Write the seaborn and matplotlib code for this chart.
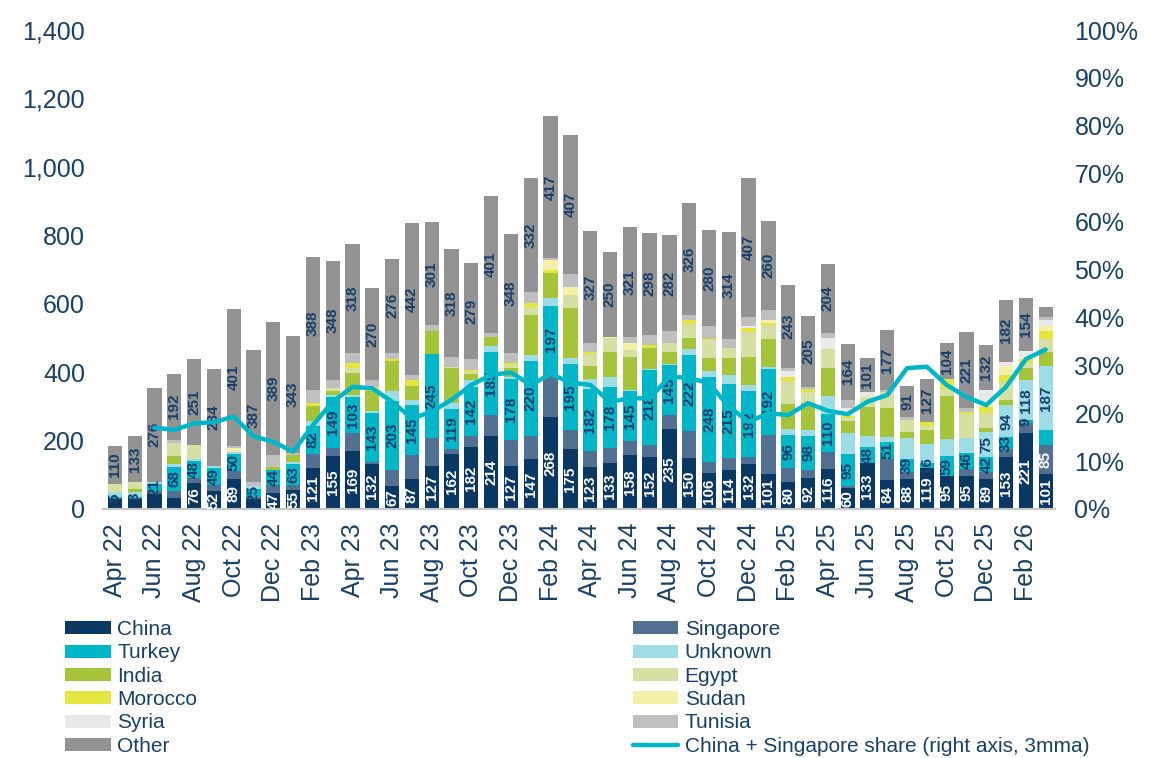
import numpy as np
import pandas as pd
import seaborn as sns
import matplotlib.pyplot as plt
from matplotlib.patches import Patch
from matplotlib.lines import Line2D
from matplotlib.ticker import FuncFormatter, MultipleLocator

months = ["Apr 22", "May 22", "Jun 22", "Jul 22", "Aug 22", "Sep 22", "Oct 22", "Nov 22", "Dec 22",
          "Jan 23", "Feb 23", "Mar 23", "Apr 23", "May 23", "Jun 23", "Jul 23", "Aug 23", "Sep 23",
          "Oct 23", "Nov 23", "Dec 23", "Jan 24", "Feb 24", "Mar 24", "Apr 24", "May 24", "Jun 24",
          "Jul 24", "Aug 24", "Sep 24", "Oct 24", "Nov 24", "Dec 24", "Jan 25", "Feb 25", "Mar 25",
          "Apr 25", "May 25", "Jun 25", "Jul 25", "Aug 25", "Sep 25", "Oct 25", "Nov 25", "Dec 25",
          "Jan 26", "Feb 26", "Mar 26"]

china = [28, 28, 45, 33, 76, 52, 89, 29, 47, 55,
         121, 155, 169, 132, 67, 87, 127, 162, 182, 214,
         127, 147, 268, 175, 123, 133, 158, 152, 235, 150,
         106, 114, 132, 101, 80, 92, 116, 60, 133, 84,
         88, 119, 95, 95, 89, 153, 221, 101]
singapore = [3, 5, 8, 21, 16, 19, 22, 5, 23, 14,
             41, 23, 54, 5, 47, 72, 81, 12, 32, 61,
             75, 67, 128, 55, 46, 46, 41, 35, 41, 78,
             32, 35, 20, 116, 41, 23, 52, 6, 0, 61,
             19, 0, 0, 23, 20, 23, 29, 85]
turkey = [5, 3, 21, 68, 48, 49, 50, 25, 44, 63,
          82, 149, 103, 143, 203, 145, 245, 119, 142, 185,
          178, 220, 197, 195, 182, 178, 145, 218, 145, 222,
          248, 215, 192, 192, 96, 98, 110, 95, 48, 51,
          39, 16, 59, 46, 42, 33, 9, 44]
unknown = [15, 14, 5, 9, 5, 5, 6, 8, 0, 5,
           12, 7, 8, 6, 28, 16, 0, 17, 22, 17,
           6, 17, 23, 17, 29, 29, 3, 3, 3, 17,
           17, 29, 17, 6, 17, 17, 52, 61, 32, 15,
           61, 56, 52, 44, 75, 94, 118, 187]
india = [0, 8, 0, 23, 0, 0, 0, 0, 8, 22,
         44, 12, 64, 60, 88, 39, 67, 102, 17, 26,
         26, 116, 73, 145, 38, 73, 96, 64, 35, 32,
         38, 49, 84, 81, 73, 81, 81, 35, 84, 84,
         17, 41, 125, 0, 12, 17, 35, 41]
egypt = [23, 22, 0, 40, 42, 0, 0, 0, 0, 0,
         0, 8, 15, 0, 0, 0, 0, 3, 6, 0,
         9, 23, 0, 38, 35, 40, 23, 0, 26, 41,
         52, 29, 73, 41, 67, 32, 58, 8, 29, 46,
         35, 12, 20, 70, 43, 52, 15, 38]
morocco = [0, 0, 0, 0, 0, 0, 0, 0, 0, 0,
           11, 0, 15, 12, 6, 17, 0, 0, 6, 0,
           6, 12, 9, 0, 6, 0, 0, 6, 0, 12,
           3, 0, 12, 6, 12, 9, 0, 8, 0, 0,
           0, 9, 29, 6, 18, 20, 12, 23]
sudan = [0, 0, 0, 0, 0, 0, 11, 0, 0, 0,
         0, 0, 0, 0, 0, 0, 0, 0, 0, 0,
         0, 0, 29, 23, 0, 3, 20, 0, 0, 0,
         0, 0, 0, 9, 0, 0, 0, 0, 0, 0,
         0, 0, 0, 0, 10, 26, 0, 17]
syria = [0, 0, 0, 0, 0, 0, 0, 0, 0, 0,
         0, 0, 0, 0, 0, 0, 0, 0, 0, 0,
         0, 0, 0, 0, 0, 0, 0, 0, 0, 0,
         0, 0, 5, 0, 17, 0, 32, 23, 15, 0,
         0, 0, 0, 0, 38, 12, 23, 17]
tunisia = [0, 0, 0, 9, 0, 0, 6, 12, 35, 5,
           38, 23, 29, 18, 17, 17, 17, 28, 32, 12,
           29, 32, 6, 38, 26, 0, 17, 32, 35, 15,
           38, 26, 26, 29, 9, 6, 12, 23, 0, 6,
           9, 0, 0, 12, 0, 0, 0, 9]
other = [110, 133, 276, 192, 251, 284, 401, 387, 389, 343,
         388, 348, 318, 270, 276, 442, 301, 318, 279, 401,
         348, 332, 417, 407, 327, 250, 321, 298, 282, 326,
         280, 314, 407, 260, 243, 205, 204, 164, 101, 177,
         91, 127, 104, 221, 132, 182, 154, 29]

# China + Singapore share, right axis, 3mma (%)
share = [np.nan, np.nan, 17.0, 16.5, 17.9, 18.1, 19.3, 15.2, 14.0, 12.0,
         17.5, 22.4, 25.5, 25.2, 22.4, 18.9, 20.3, 22.8, 25.9, 28.0,
         28.5, 25.9, 28.2, 26.4, 25.9, 22.4, 23.1, 23.1, 27.6, 27.4,
         26.2, 21.4, 18.2, 20.0, 19.6, 22.1, 20.5, 19.8, 22.4, 23.8,
         29.4, 29.7, 25.9, 23.4, 21.7, 25.5, 31.3, 33.3]

countries = ["China", "Singapore", "Turkey", "Unknown", "India", "Egypt",
             "Morocco", "Sudan", "Syria", "Tunisia", "Other"]
series = [china, singapore, turkey, unknown, india, egypt,
          morocco, sudan, syria, tunisia, other]
colors = {"China": "#0A3864", "Singapore": "#527192", "Turkey": "#00B7CA",
          "Unknown": "#9CDDE6", "India": "#A6C43A", "Egypt": "#D5E0A2",
          "Morocco": "#E5E540", "Sudan": "#F4F0A6", "Syria": "#E9E9E9",
          "Tunisia": "#BFBFBF", "Other": "#939393"}
navy = "#17406A"
line_col = "#00B7CA"

sns.set_theme(style="white")
plt.rcParams["font.family"] = ["Liberation Sans", "DejaVu Sans"]

n = len(months)
idx = np.arange(n)
long = pd.DataFrame({
    "idx": np.tile(idx, len(countries)),
    "country": np.repeat(countries, n),
    "value": np.concatenate([np.array(s, dtype=float) for s in series]),
})

fig = plt.figure(figsize=(11.7, 7.58), dpi=100)
ax = fig.add_axes([103 / 1170, 1 - 509 / 758, (1055 - 103) / 1170, (509 - 30) / 758])

sns.histplot(
    data=long, x="idx", weights="value", hue="country",
    hue_order=countries[::-1], multiple="stack", discrete=True, shrink=0.72,
    palette=colors, alpha=1, linewidth=0, legend=False, ax=ax,
)

# bar value labels
cum = np.zeros(n)
bottoms = {}
for name, s in zip(countries, series):
    bottoms[name] = cum.copy()
    cum = cum + np.array(s)

def put_labels(name, which, col):
    vals = np.array(series[countries.index(name)])
    for i in which:
        v = vals[i]
        ax.text(i, bottoms[name][i] + v / 2, str(int(v)), rotation=90,
                ha="center", va="center", fontsize=11, fontweight="bold",
                color=col)

put_labels("China", [i for i in range(n) if china[i] >= 46], "white")
put_labels("Turkey", range(n - 1), navy)
put_labels("Singapore", [n - 1], "white")
put_labels("Unknown", range(n - 4, n), navy)
put_labels("Other", range(n - 1), navy)

ax.set_xlim(-0.6, 47.47)
ax.set_ylim(0, 1400)
ax.yaxis.set_major_locator(MultipleLocator(200))
ax.yaxis.set_major_formatter(FuncFormatter(lambda v, p: f"{int(v):,}"))
ax.set_xticks(idx[::2])
ax.set_xticklabels(months[::2], rotation=90)
ax.tick_params(axis="x", length=0, labelsize=18, labelcolor=navy, pad=10)
ax.tick_params(axis="y", length=0, labelsize=18, labelcolor=navy, pad=13)
ax.set_xlabel("")
ax.set_ylabel("")
for sp in ["top", "left", "right"]:
    ax.spines[sp].set_visible(False)
ax.spines["bottom"].set_color("#C8C8C8")
ax.spines["bottom"].set_linewidth(1.5)

ax2 = ax.twinx()
line_df = pd.DataFrame({"idx": idx, "share": np.array(share) / 100})
sns.lineplot(data=line_df, x="idx", y="share", color=line_col, linewidth=3.2, ax=ax2)
ax2.set_ylim(0, 1)
ax2.yaxis.set_major_locator(MultipleLocator(0.1))
ax2.yaxis.set_major_formatter(FuncFormatter(lambda v, p: f"{v * 100:.0f}%"))
ax2.tick_params(axis="y", length=0, labelsize=18, labelcolor=navy, pad=14)
ax2.set_ylabel("")
ax2.set_xlabel("")
for sp in ax2.spines.values():
    sp.set_visible(False)

# legend: left column then right column
left = ["China", "Turkey", "India", "Morocco", "Syria", "Other"]
right = ["Singapore", "Unknown", "Egypt", "Sudan", "Tunisia"]
handles = [Patch(facecolor=colors[c], edgecolor="none") for c in left]
handles += [Patch(facecolor=colors[c], edgecolor="none") for c in right]
handles.append(Line2D([0], [0], color=line_col, linewidth=3.2))
labels = left + right + ["China + Singapore share (right axis, 3mma)"]
fig.legend(handles, labels, ncol=2, loc="upper left",
           bbox_to_anchor=(65 / 1170, 1 - 620 / 758), frameon=False,
           labelcolor=navy, handlelength=2.2, handleheight=0.58,
           labelspacing=0.21, columnspacing=20.9, handletextpad=0.3,
           borderpad=0, borderaxespad=0,
           prop={"family": ["Liberation Sans", "DejaVu Sans"], "size": 15})

fig.savefig("out.png", dpi=100)
